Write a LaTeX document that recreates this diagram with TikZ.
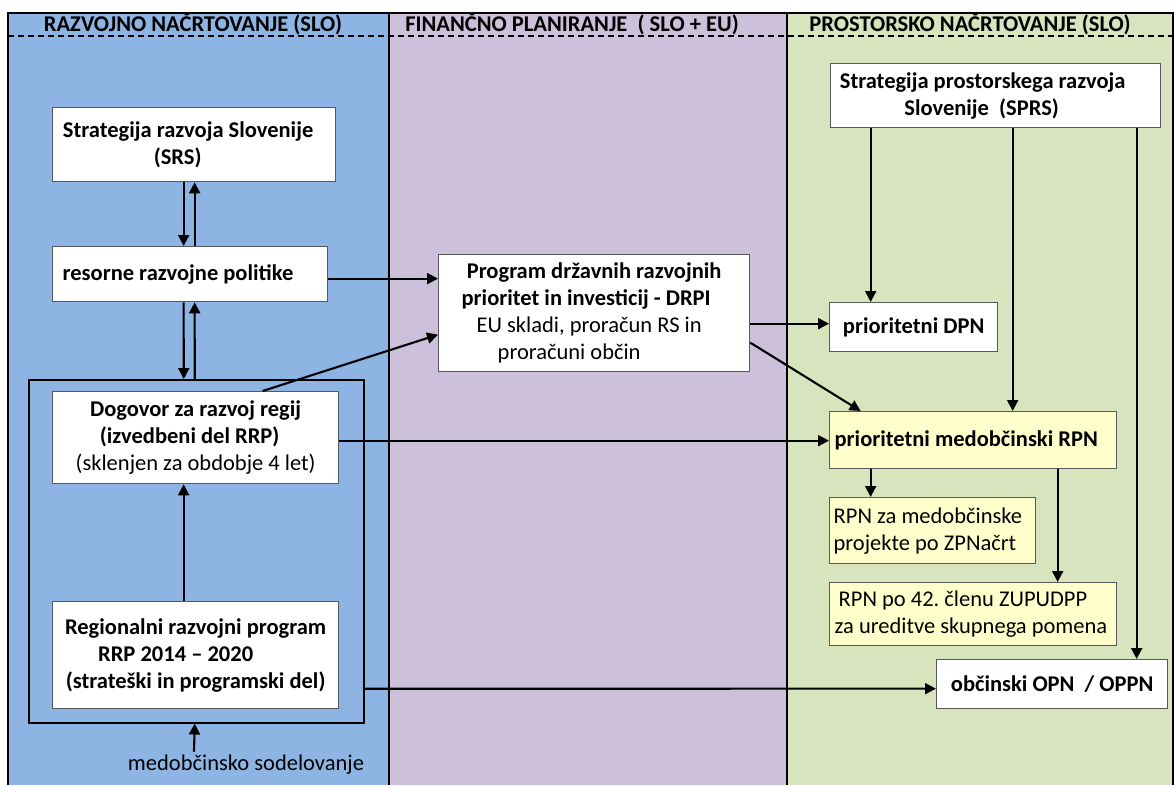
\documentclass[tikz,border=0pt]{standalone}
\usepackage{fontspec}
\setmainfont{Carlito}
\usetikzlibrary{arrows.meta}
\frenchspacing

\definecolor{razvoj}{HTML}{8DB4E2}
\definecolor{finance}{HTML}{CCC0DA}
\definecolor{prostor}{HTML}{D7E4BD}
\definecolor{rumena}{HTML}{FFFFCC}

\tikzset{
	box/.style={rectangle, draw=black!65, line width=1.3pt, fill=white, anchor=north west, inner sep=0pt},
	ybox/.style={box, fill=rumena},
	con/.style={line width=2.1pt},
	hdr/.style={anchor=base, font=\fontsize{22.5}{27}\selectfont\bfseries},
}

\begin{document}
\begin{tikzpicture}[x=1pt, y=-1pt, font=\fontsize{22.5}{27}\selectfont, >={Triangle[length=11pt,width=11pt]}]
		\useasboundingbox (0,0) rectangle (1174,785);

		% Columns
		\fill[razvoj] (8,13) rectangle (389,785);
		\fill[finance] (389,13) rectangle (787,785);
		\fill[prostor] (787,13) rectangle (1173,785);
		\draw[line width=1.5pt] (8,785) -- (8,13) -- (1173,13) -- (1173,785);
		\draw[line width=1.5pt] (389,13) -- (389,785);
		\draw[line width=1.5pt] (787,13) -- (787,785);
		\draw[dashed, dash pattern=on 6pt off 4pt, line width=1.2pt] (8,36) -- (1173,36);

		\node[hdr] (h1) at (193,31) {RAZVOJNO NAČRTOVANJE (SLO)};
		\node[hdr] (h2) at (572,31) {FINANČNO PLANIRANJE~ ( SLO + EU)};
		\node[hdr] (h3) at (970,31) {PROSTORSKO NAČRTOVANJE (SLO)};

		% Left column
		\node[draw, line width=1.5pt, anchor=north west, inner sep=0pt, minimum width=335pt, minimum height=343pt] (cont) at (28,379) {};

		\node[box, minimum width=283pt, minimum height=74pt, text width=283pt, align=flush center] (srs) at (52,107) {\textbf{Strategija razvoja Slovenije}\rule{12pt}{0pt}\\\textbf{(SRS)}\rule{33pt}{0pt}};
		\node[box, minimum width=275pt, minimum height=55pt, inner xsep=10pt, text width=255pt, align=flush left] (res) at (52,246) {\textbf{resorne razvojne politike}};
		\node[box, minimum width=286pt, minimum height=92pt, text width=286pt, align=flush center] (dog) at (52,391) {\textbf{Dogovor za razvoj regij}\\\textbf{(izvedbeni del RRP)}\rule{12pt}{0pt}\\(sklenjen za obdobje 4 let)};
		\node[box, minimum width=286pt, minimum height=107pt, text width=286pt, align=flush center] (rrp) at (52,601) {\textbf{Regionalni razvojni program}\\\textbf{RRP 2014 – 2020}\rule{40pt}{0pt}\\\textbf{(strateški in programski del)}};
		\node (sod) at (246,765) {medobčinsko sodelovanje};

		% Middle column
		\node[box, minimum width=311pt, minimum height=117pt, text width=311pt, align=flush center] (drpi) at (438,254) {\textbf{Program državnih razvojnih}\\\textbf{prioritet in investicij - DRPI}\rule{16pt}{0pt}\\EU skladi, proračun RS in\rule{10pt}{0pt}\\proračuni občin\rule{50pt}{0pt}};

		% Right column
		\node[box, minimum width=330pt, minimum height=64pt, text width=330pt, align=flush center] (sprs) at (830,63) {\textbf{Strategija prostorskega razvoja}\rule{26pt}{0pt}\\\textbf{Slovenije~ (SPRS)}\rule{28pt}{0pt}};
		\node[box, minimum width=168pt, minimum height=49pt, text width=168pt, align=flush center] (dpn) at (829,302) {\textbf{prioritetni DPN}};
		\node[ybox, minimum width=287pt, minimum height=57pt, inner xsep=5pt, text width=277pt, align=flush left] (med) at (829,411) {\textbf{prioritetni medobčinski RPN}};
		\node[ybox, minimum width=206pt, minimum height=66pt, inner xsep=4pt, text width=198pt, align=flush left] (rpnza) at (829,497) {RPN za medobčinske\\projekte po ZPNačrt};
		\node[ybox, minimum width=287pt, minimum height=63pt, inner xsep=5pt, text width=277pt, align=flush left] (rpn42) at (829,582) {\hspace*{4pt}RPN po 42. členu ZUPUDPP\\za ureditve skupnega pomena};
		\node[box, minimum width=231pt, minimum height=49pt, text width=231pt, align=flush center] (obc) at (936,659) {\textbf{občinski OPN~ / OPPN}};

		% Connectors, left column
		\draw[->, con] ([xshift=-10.5]srs.south) -- ([xshift=-6.5]res.north);
		\draw[->, con] ([xshift=4.5]res.north) -- ([xshift=0.5]srs.south);
		\draw[->, con] ([xshift=-6.5]res.south) -- ([xshift=-12.5]cont.north);
		\draw[->, con] ([xshift=-1.5]cont.north) -- ([xshift=4.5]res.south);
		\draw[->, con] ([xshift=-12]rrp.north) -- ([xshift=-12]dog.south);
		\draw[->, con] ([xshift=-52]sod.north) -- ([xshift=-1.5]cont.south);

		% Connectors across columns
		\draw[->, con] ([yshift=-4.5]res.east) -- ([yshift=34.5]drpi.west);
		\draw[->, con] ([xshift=67]dog.north) -- ([yshift=-21.5]drpi.west);
		\draw[->, con] ([yshift=-10.5]drpi.east) -- ([yshift=3.5]dpn.west);
		\draw[->, con] ([yshift=-29.5]drpi.east) -- ([xshift=-112.5]med.north);
		\draw[->, con] ([yshift=-3]dog.east) -- ([yshift=-0.5]med.west);
		\draw[->, con] ([yshift=-137.5]cont.east) -- ([yshift=-4.5]obc.west);

		% Connectors, right column
		\draw[->, con] ([xshift=-125]sprs.south) -- ([xshift=-43]dpn.north);
		\draw[->, con] ([xshift=17]sprs.south) -- ([xshift=39.5]med.north);
		\draw[->, con] ([xshift=141]sprs.south) -- ([xshift=84.5]obc.north);
		\draw[->, con] ([xshift=-102.5]med.south) -- ([xshift=-62]rpnza.north);
		\draw[->, con] ([xshift=84.5]med.south) -- ([xshift=84.5]rpn42.north);
	\end{tikzpicture}
\end{document}
